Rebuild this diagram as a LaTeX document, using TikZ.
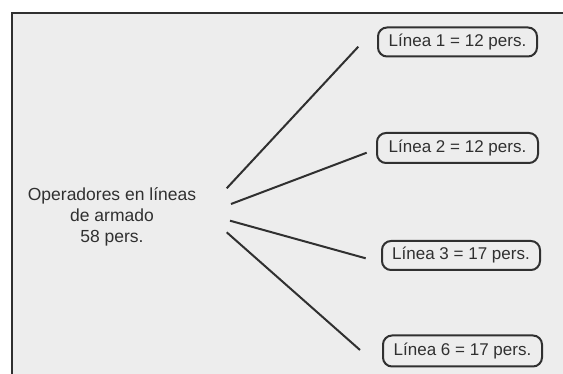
\documentclass[tikz,border=0pt]{standalone}
\usepackage{fontspec}
\setmainfont{Liberation Sans}
\definecolor{bgray}{HTML}{EDEDED}
\definecolor{ink}{HTML}{303030}
\begin{document}
\begin{tikzpicture}[x=1pt,y=-1pt,
  linebox/.style={draw=ink,line width=2pt,rounded corners=9pt,fill=bgray,
    inner sep=0pt,minimum height=29pt,text=ink,font=\fontsize{17}{20}\selectfont},
  conn/.style={draw=ink,line width=2pt},
  lbl/.style={align=center,text=ink,font=\fontsize{17.5}{21}\selectfont}]
\useasboundingbox (0,0) rectangle (563,374);
\fill[white] (0,0) rectangle (563,374);
\draw[draw=ink,line width=2.5pt,fill=bgray] (12,13) rectangle (580,390);
\node[lbl] (src) at (112,217) {Operadores en líneas\\de armado\\58 pers.};
\node[linebox,minimum width=159pt] (l1) at (457.5,42) {Línea 1 = 12 pers.};
\node[linebox,minimum width=161pt,minimum height=30pt] (l2) at (457.5,148) {Línea 2 = 12 pers.};
\node[linebox,minimum width=158pt] (l3) at (461,255.5) {Línea 3 = 17 pers.};
\node[linebox,minimum width=159pt,minimum height=31pt] (l6) at (462.5,351) {Línea 6 = 17 pers.};
\coordinate (s1) at (226.7,188.3);
\coordinate (t1) at (358.3,46.7);
\coordinate (s2) at (231,204);
\coordinate (t2) at (366.7,152.7);
\coordinate (s3) at (230,220.7);
\coordinate (t3) at (365.7,258.3);
\coordinate (s4) at (226.7,232.3);
\coordinate (t4) at (360,350);
\draw[conn] (s1) -- (t1);
\draw[conn] (s2) -- (t2);
\draw[conn] (s3) -- (t3);
\draw[conn] (s4) -- (t4);
\end{tikzpicture}
\end{document}
